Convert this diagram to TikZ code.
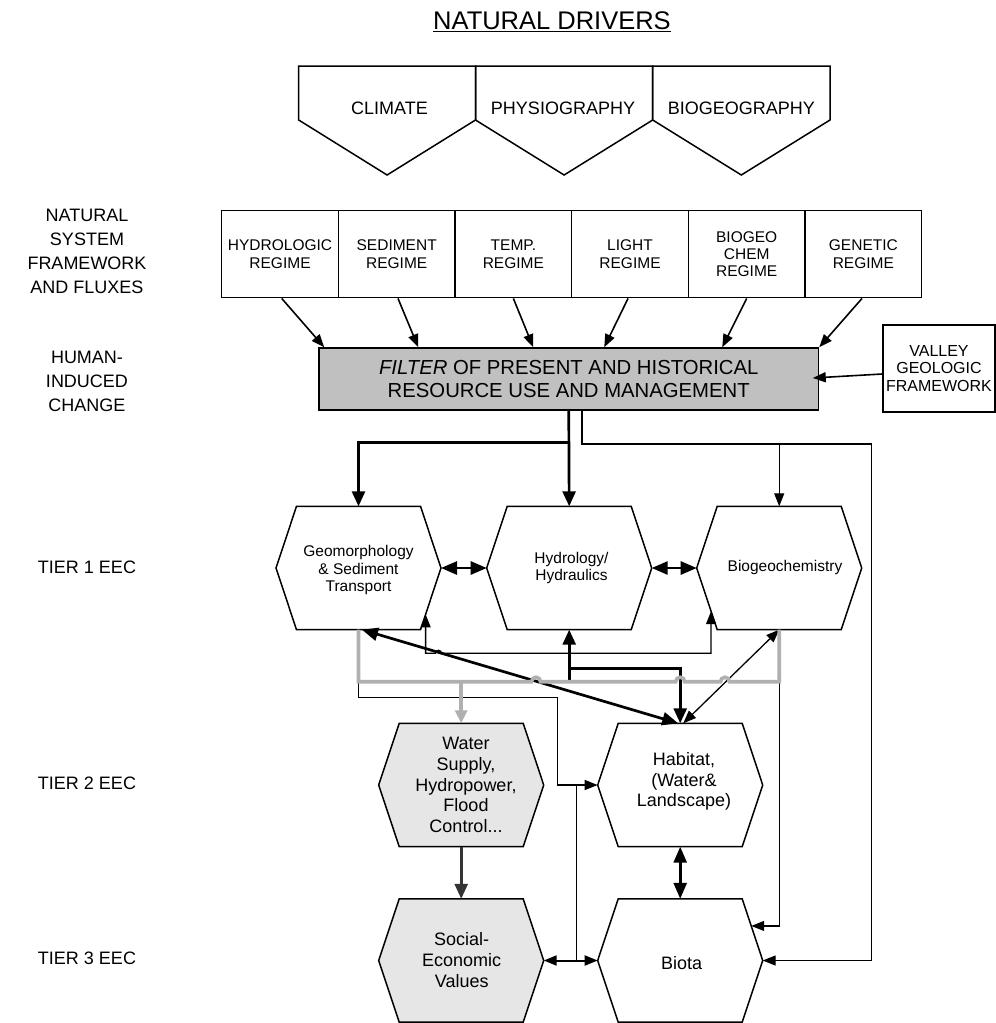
\documentclass[tikz,border=0pt]{standalone}
\usepackage{fontspec}
\setmainfont{Liberation Sans}
\usetikzlibrary{arrows.meta,calc}
\newcommand\fszReg{\fontsize{15.5}{17.3}\selectfont}
\newcommand\fszHexB{\fontsize{18}{20.7}\selectfont}
\newcommand\fszLab{\fontsize{18}{24}\selectfont}
\newcommand\fszFil{\fontsize{20.3}{23.5}\selectfont}
\newcommand\fszTit{\fontsize{25.5}{28}\selectfont}
\newcommand\fszPen{\fontsize{18}{20}\selectfont}
\definecolor{filtergray}{HTML}{C0C0C0}
\definecolor{lightfill}{HTML}{E6E6E6}
\definecolor{busgray}{HTML}{B0B0B0}
\definecolor{darkln}{HTML}{333333}
\tikzset{
 hexln/.style={line width=1.5pt, line join=miter},
 regbox/.style={draw, line width=1.5pt, minimum width=116.67pt, minimum height=87pt, inner sep=0pt, align=center, font=\fszReg},
 thinln/.style={line width=1.3pt},
 regln/.style={line width=1.6pt},
 thickln/.style={line width=2.7pt},
 busln/.style={line width=3.6pt, draw=busgray},
 tipA/.style={-{Triangle[length=13pt,width=10pt]}},
 tipB/.style={-{Triangle[length=15pt,width=13pt]}},
 tipAA/.style={{Triangle[length=13pt,width=10pt]}-{Triangle[length=13pt,width=10pt]}},
 tipBB/.style={{Triangle[length=16pt,width=13pt]}-{Triangle[length=16pt,width=13pt]}},
 lab/.style={font=\fszLab, align=center, inner sep=0pt},
 hexA/.style={font=\fszReg, align=center, inner sep=0pt},
 hexB/.style={font=\fszHexB, align=center, inner sep=0pt},
}
\newcommand\hexshape[4]{%
 \coordinate (#1-c) at (#2,#3);
 \coordinate (#1-l) at ({#2-82.5},#3);
 \coordinate (#1-r) at ({#2+82.5},#3);
 \coordinate (#1-tl) at ({#2-62},{#3-61.7});
 \coordinate (#1-tr) at ({#2+62},{#3-61.7});
 \coordinate (#1-bl) at ({#2-62},{#3+61.7});
 \coordinate (#1-br) at ({#2+62},{#3+61.7});
 \coordinate (#1-t) at (#2,{#3-61.7});
 \coordinate (#1-b) at (#2,{#3+61.7});
 \draw[hexln,#4] (#1-l) -- (#1-tl) -- (#1-tr) -- (#1-r) -- (#1-br) -- (#1-bl) -- cycle;
}
\begin{document}
\begin{tikzpicture}[x=1pt,y=-1pt]
\useasboundingbox[fill=white] (0,0) rectangle (996,1023);

% title
\node[font=\fszTit, inner sep=0pt, anchor=base] (title) at (552,29.5) {\underline{NATURAL DRIVERS}};

% pentagons
\coordinate (p0) at (298.7,66);
\coordinate (p1) at (475.5,66);
\coordinate (p2) at (652.7,66);
\coordinate (p3) at (830,66);
\draw[hexln] (p0) -- (p1) -- (475.5,120) -- (387.1,175) -- (298.7,120) -- cycle;
\draw[hexln] (p1) -- (p2) -- (652.7,120) -- (564.1,175) -- (475.5,120) -- cycle;
\draw[hexln] (p2) -- (p3) -- (830,120) -- (741.3,175) -- (652.7,120) -- cycle;
\node[font=\fszPen, inner sep=0pt] (climate) at (389.5,108.3) {CLIMATE};
\node[font=\fszPen, inner sep=0pt] (physio) at (563,108.3) {PHYSIOGRAPHY};
\node[font=\fszPen, inner sep=0pt] (biogeog) at (741.3,108.3) {BIOGEOGRAPHY};

% left labels
\node[lab] (lab1) at (87,251) {NATURAL\\SYSTEM\\FRAMEWORK\\AND FLUXES};
\node[lab] (lab2) at (87,381) {HUMAN-\\INDUCED\\CHANGE};
\node[lab] (lab3) at (87,567) {TIER 1 EEC};
\node[lab] (lab4) at (87,783) {TIER 2 EEC};
\node[lab] (lab5) at (87,958) {TIER 3 EEC};

% regime boxes
\node[regbox] (r1) at (280.03,254.2) {HYDROLOGIC\\REGIME};
\node[regbox] (r2) at (396.7,254.2) {SEDIMENT\\REGIME};
\node[regbox] (r3) at (513.37,254.2) {TEMP.\\REGIME};
\node[regbox] (r4) at (630.03,254.2) {LIGHT\\REGIME};
\node[regbox] (r5) at (746.7,254.2) {BIOGEO\\CHEM\\REGIME};
\node[regbox] (r6) at (863.37,254.2) {GENETIC\\REGIME};

% filter
\node[draw, line width=1.5pt, fill=filtergray, minimum width=499.5pt, minimum height=62pt, inner sep=0pt, align=center, font=\fszFil] (filter) at (568.75,379) {\textit{FILTER} OF PRESENT AND HISTORICAL\\RESOURCE USE AND MANAGEMENT};

% valley
\node[draw, line width=1.5pt, minimum width=112pt, minimum height=87pt, inner sep=0pt, align=center, font=\fontsize{16}{17.5}\selectfont] (valley) at (939,368.5) {VALLEY\\GEOLOGIC\\FRAMEWORK};

% regime arrows
\draw[regln, tipA] ([xshift=1.7pt]r1.south) -- ($(filter.north west)+(6,0)$);
\draw[regln, tipA] ([xshift=1.3pt]r2.south) -- ($(filter.north west)+(100,0)$);
\draw[regln, tipA] (r3.south) -- ($(filter.north west)+(215,0)$);
\draw[regln, tipA] ([xshift=-2pt]r4.south) -- ($(filter.north west)+(286,0)$);
\draw[regln, tipA] (r5.south) -- ($(filter.north west)+(404,0)$);
\draw[regln, tipA] ([xshift=-1.4pt]r6.south) -- (filter.north east);
\draw[regln, tipA] ($(valley.west)+(0,5.5)$) -- ($(filter.east)+(-6.5,-1)$);

% hexagons
\hexshape{gm}{358.5}{568}{}
\hexshape{hy}{569.2}{568}{}
\hexshape{bg}{779.2}{568}{}
\hexshape{ws}{461.2}{785}{fill=lightfill}
\hexshape{hb}{680.2}{785}{}
\hexshape{se}{461.2}{960.5}{fill=lightfill}
\hexshape{bi}{680.2}{960.5}{}

\node[hexA] (gmt) at (358.5,570) {Geomorphology\\\& Sediment\\Transport};
\node[hexA] (hyt) at (571.5,568.3) {Hydrology/\\Hydraulics};
\node[hexA] (bgt) at (785,567.7) {Biogeochemistry};
\node[hexB] (wst) at (466,785) {Water\\Supply,\\Hydropower,\\Flood\\Control...};
\node[hexB] (hbt) at (684,781.5) {Habitat,\\(Water\&\\Landscape)};
\node[hexB] (set) at (461.7,960) {Social-\\Economic\\Values};
\node[hexB] (bit) at (681.7,963) {Biota};

% lanes
\coordinate (laneT) at (0,442.3);
\coordinate (laneU) at (0,444);
\coordinate (laneA) at (0,653.3);
\coordinate (laneC) at (0,668.3);
\coordinate (busY) at (0,681.7);
\coordinate (laneB) at (0,697.3);
\coordinate (jL) at (557.5,0);
\coordinate (jx) at (576.7,0);
\coordinate (farR) at (871.7,0);
\coordinate (gmE) at ($(gm-r)!0.75!(gm-br)$);
\coordinate (bgE) at ($(bg-l)!0.7!(bg-bl)$);
\coordinate (biQ) at ($(bi-tr)!0.44!(bi-r)$);

% from filter: thick
\draw[thickln, tipB] (filter.south) -- (hy-t);
\draw[thickln, tipB] (filter.south |- laneT) -- (gm-t |- laneT) -- (gm-t);
% from filter: thin
\draw[thinln, tipA] ([xshift=13.25pt]filter.south) -- ([xshift=13.25pt]filter.south |- laneU) -- (farR |- laneU) -- (farR |- bi-r) -- (bi-r);
\draw[thinln, tipA] (bg-t |- laneU) -- (bg-t);

% tier 1 double arrows
\draw[thickln, tipBB] (gm-r) -- (hy-l);
\draw[thickln, tipBB] (hy-r) -- (bg-l);

% thin loop below tier 1
\draw[thinln, tipAA] (gmE) -- (gmE |- laneA) -- (435.5,653.3) arc[start angle=180,end angle=0,radius=3pt] -- (bgE |- laneA) -- (bgE);

% thick black to hydrology and habitat
\draw[thickln, tipB] (hy-b |- busY) -- (hy-b);
\draw[thickln, tipB] (hy-b |- laneC) -- (hb-t |- laneC) -- (hb-t);

% diagonals
\draw[thickln, tipBB] ([xshift=3.5pt]gm-b) -- ([xshift=-2pt]hb-t);
\draw[thinln, tipAA] (bg-b) -- ([xshift=3pt]hb-t);

% thin to habitat left and down to social/biota
\draw[thinln, tipA] (gm-b |- busY) -- (gm-b |- laneB) -- (jL |- laneB) -- (jL |- hb-l) -- (hb-l);
\draw[thinln] (jx |- hb-l) -- (jx |- bi-l);
\draw[line width=2pt, tipAA] (se-r) -- (bi-l);

% thin from bus right down to biota
\draw[thinln, tipA] (bg-b |- busY) -- (bg-b |- biQ) -- (biQ);

% gray bus
\draw[busln] (gm-b) -- (gm-b |- busY) -- (531.5,681.7) arc[start angle=180,end angle=0,radius=4.5pt] -- (675.7,681.7) arc[start angle=180,end angle=0,radius=4.5pt] -- (720.5,681.7) arc[start angle=180,end angle=0,radius=4.5pt] -- (bg-b |- busY) -- (bg-b);
\draw[busln, -{Triangle[length=13pt,width=12pt]}] (ws-t |- busY) -- (ws-t);

% tier 2 -> 3
\draw[thickln, draw=darkln, -{Triangle[length=15pt,width=13pt]}] (ws-b) -- (se-t);
\draw[thickln, tipBB] (hb-b) -- (bi-t);
\end{tikzpicture}
\end{document}
